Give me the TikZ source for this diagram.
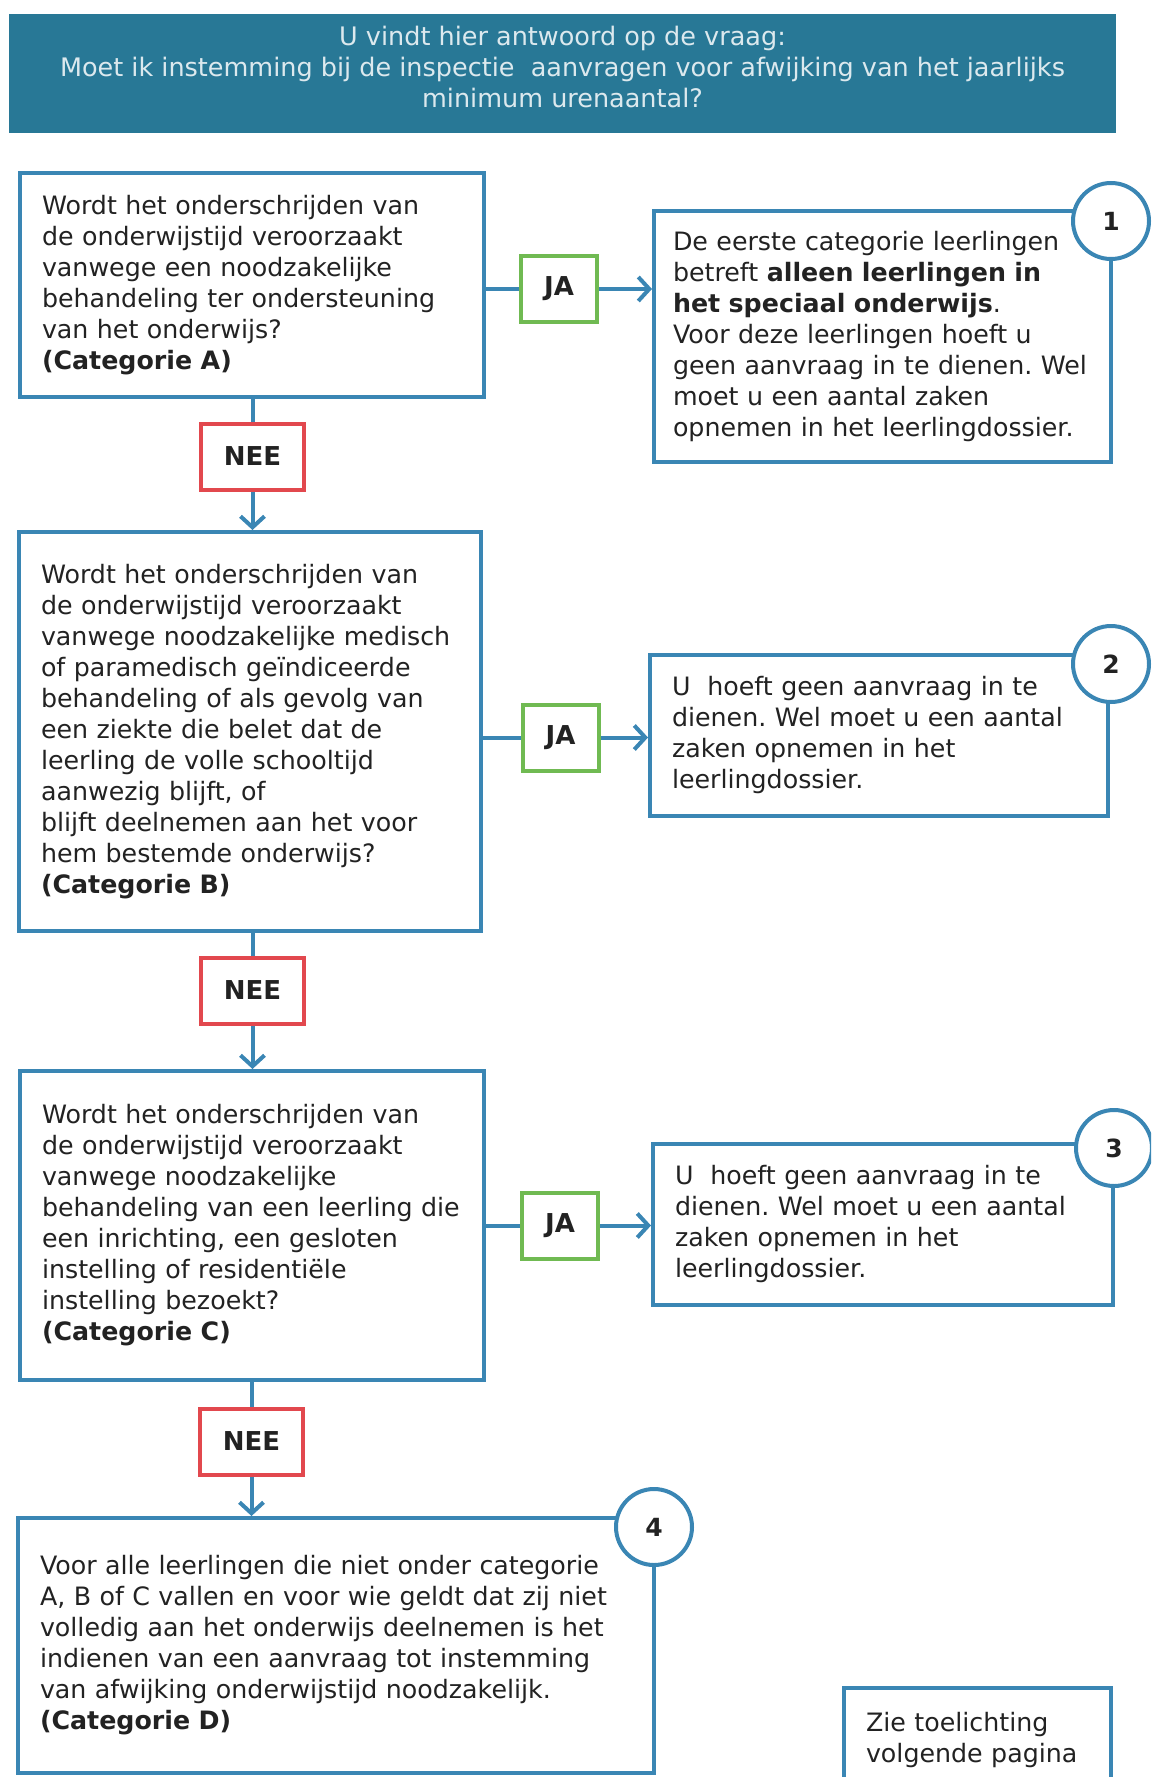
\documentclass[tikz,border=0pt]{standalone}
\usepackage{fontspec}
\setmainfont{DejaVu Sans}
\usetikzlibrary{arrows.meta}

\definecolor{kopblauw}{RGB}{40,120,150}
\definecolor{koptekst}{RGB}{220,233,238}
\definecolor{randblauw}{RGB}{58,134,180}
\definecolor{jagroen}{RGB}{112,186,82}
\definecolor{neerood}{RGB}{226,72,78}
\definecolor{inkt}{RGB}{34,34,34}

\tikzset{
  kop/.style={fill=kopblauw, text=koptekst, align=center, minimum width=1107pt, minimum height=119pt, text depth=14pt, font=\fontsize{25.5}{31}\selectfont\frenchspacing},
  vak/.style={draw=randblauw, line width=4pt, fill=white, align=left, inner xsep=22pt, inner ysep=0pt, text=inkt, font=\fontsize{25.3}{31}\selectfont\frenchspacing},
  jabox/.style={draw=jagroen, line width=4pt, fill=white, minimum width=76pt, minimum height=66pt, text=inkt, font=\fontsize{26}{30}\selectfont\bfseries},
  neebox/.style={jabox, draw=neerood, minimum width=103pt},
  nummer/.style={circle, draw=randblauw, line width=4pt, fill=white, minimum size=76pt, inner sep=0pt, text=inkt, font=\fontsize{25}{28}\selectfont\bfseries},
  lijn/.style={draw=randblauw, line width=4pt},
  pijl/.style={lijn, -{Straight Barb[length=11pt,width=24pt,line width=4pt]}}
}

\begin{document}
\begin{tikzpicture}[x=1pt,y=-1pt]
\useasboundingbox (0,0) rectangle (1151,1777);
\clip (0,0) rectangle (1151,1777);

\node[kop] (kop) at (562.5,73.5) {U vindt hier antwoord op de vraag:\\
  Moet ik instemming bij de inspectie~ aanvragen voor afwijking van het jaarlijks\\
  minimum urenaantal?};

% vragen links
\node[vak, text width=420pt, minimum height=224pt] (vraagA) at (252,285) {Wordt het onderschrijden van\\
  de onderwijstijd veroorzaakt\\
  vanwege een noodzakelijke\\
  behandeling ter ondersteuning\\
  van het onderwijs?\\
  \textbf{(Categorie A)}};
\node[vak, text width=418pt, minimum height=399pt] (vraagB) at (250,731.5) {Wordt het onderschrijden van\\
  de onderwijstijd veroorzaakt\\
  vanwege noodzakelijke medisch\\
  of paramedisch geïndiceerde\\
  behandeling of als gevolg van\\
  een ziekte die belet dat de\\
  leerling de volle schooltijd\\
  aanwezig blijft, of\\
  blijft deelnemen aan het voor\\
  hem bestemde onderwijs?\\
  \textbf{(Categorie B)}};
\node[vak, text width=420pt, minimum height=309pt] (vraagC) at (252,1225.5) {Wordt het onderschrijden van\\
  de onderwijstijd veroorzaakt\\
  vanwege noodzakelijke\\
  behandeling van een leerling die\\
  een inrichting, een gesloten\\
  instelling of residentiële\\
  instelling bezoekt?\\
  \textbf{(Categorie C)}};
\node[vak, text width=592pt, minimum height=255pt] (vraagD) at (336,1645.5) {Voor alle leerlingen die niet onder categorie\\
  A, B of C vallen en voor wie geldt dat zij niet\\
  volledig aan het onderwijs deelnemen is het\\
  indienen van een aanvraag tot instemming\\
  van afwijking onderwijstijd noodzakelijk.\\
  \textbf{(Categorie D)}};

% uitkomsten rechts
\node[vak, inner xsep=19pt, text width=419pt, minimum height=251pt] (uitA) at (882.5,336.5) {De eerste categorie leerlingen\\
  betreft \textbf{alleen leerlingen in}\\
  \textbf{het speciaal onderwijs}.\\
  Voor deze leerlingen hoeft u\\
  geen aanvraag in te dienen. Wel\\
  moet u een aantal zaken\\
  opnemen in het leerlingdossier.};
\node[vak, text width=414pt, minimum height=161pt] (uitB) at (879,735.5) {U~ hoeft geen aanvraag in te\\
  dienen. Wel moet u een aantal\\
  zaken opnemen in het\\
  leerlingdossier.};
\node[vak, text width=416pt, minimum height=161pt] (uitC) at (883,1224.5) {U~ hoeft geen aanvraag in te\\
  dienen. Wel moet u een aantal\\
  zaken opnemen in het\\
  leerlingdossier.};
\node[vak, text width=223pt, minimum height=104pt] (zie) at (977.5,1740) {Zie toelichting\\
  volgende pagina};

% JA / NEE
\node[jabox] (ja1) at (559,289) {JA};
\node[jabox] (ja2) at (560.5,737.5) {JA};
\node[jabox] (ja3) at (560,1225.5) {JA};
\node[neebox] (nee1) at (252.5,456.5) {NEE};
\node[neebox] (nee2) at (252.5,990.5) {NEE};
\node[neebox] (nee3) at (251.5,1441.5) {NEE};

% verbindingen
\draw[lijn] (ja1.west -| vraagA.east) -- (ja1.west);
\draw[pijl] (ja1.east) -- (ja1.east -| uitA.west);
\draw[lijn] (ja2.west -| vraagB.east) -- (ja2.west);
\draw[pijl] (ja2.east) -- (ja2.east -| uitB.west);
\draw[lijn] (ja3.west -| vraagC.east) -- (ja3.west);
\draw[pijl] (ja3.east) -- (ja3.east -| uitC.west);

\draw[lijn] (nee1.north |- vraagA.south) -- (nee1.north);
\draw[pijl] (nee1.south) -- (nee1.south |- vraagB.north);
\draw[lijn] (nee2.north |- vraagB.south) -- (nee2.north);
\draw[pijl] (nee2.south) -- (nee2.south |- vraagC.north);
\draw[lijn] (nee3.north |- vraagC.south) -- (nee3.north);
\draw[pijl] (nee3.south) -- (nee3.south |- vraagD.north);

% nummers
\node[nummer] (n1) at (1111,221) {1};
\node[nummer] (n2) at (1111,664) {2};
\node[nummer] (n3) at (1114,1148) {3};
\node[nummer] (n4) at (654,1527) {4};
\end{tikzpicture}
\end{document}
